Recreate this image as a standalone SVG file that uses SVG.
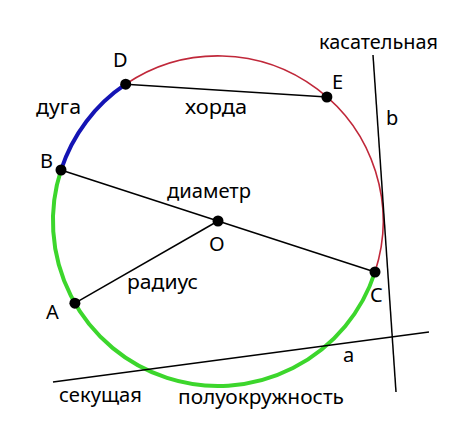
<svg xmlns="http://www.w3.org/2000/svg" width="474" height="439" viewBox="0 0 474 439">
<style>
.ln{stroke:#000;stroke-width:1.5;fill:none}
.pt{fill:#000}
.lbl{font-family:"Noto Sans","DejaVu Sans",sans-serif;font-size:20px;fill:#000}
.wd{font-family:"Noto Sans","DejaVu Sans",sans-serif;font-size:20px;fill:#000}
</style>
<rect width="474" height="439" fill="#fff"/>
<g id="circle">
<path d="M125.7,84.2 A165,165 0 0 1 375,272" fill="none" stroke="#c0283a" stroke-width="1.6"/>
<path d="M61,170 A165,165 0 0 1 125.7,84.2" fill="none" stroke="#1414b4" stroke-width="4"/>
<path d="M375,272 A165,165 0 0 1 61,170" fill="none" stroke="#3cd62c" stroke-width="4"/>
</g>
<g id="connectors">
<line class="ln" x1="125.7" y1="84.2" x2="326.9" y2="97"/>
<line class="ln" x1="61" y1="170" x2="375" y2="272"/>
<line class="ln" x1="218" y1="221" x2="74.9" y2="303.2"/>
<line class="ln" x1="373" y1="55" x2="396" y2="392"/>
<line class="ln" x1="53" y1="382" x2="429" y2="332"/>
</g>
<g id="D"><circle class="pt" cx="125.7" cy="84.2" r="5.5"/><text class="lbl" x="113" y="67">D</text></g>
<g id="E"><circle class="pt" cx="326.9" cy="97" r="5.5"/><text class="lbl" x="332" y="89">E</text></g>
<g id="B"><circle class="pt" cx="61" cy="170" r="5.5"/><text class="lbl" x="40" y="168">B</text></g>
<g id="C"><circle class="pt" cx="375" cy="272" r="5.5"/><text class="lbl" x="370" y="302">C</text></g>
<g id="A"><circle class="pt" cx="74.9" cy="303.2" r="5.5"/><text class="lbl" x="46" y="319">A</text></g>
<g id="O"><circle class="pt" cx="218" cy="221" r="5.5"/><text class="lbl" x="209" y="251">O</text></g>
<g id="labels">
<text class="wd" x="319" y="49" textLength="119" lengthAdjust="spacingAndGlyphs">касательная</text>
<text class="wd" x="178" y="404" textLength="166" lengthAdjust="spacingAndGlyphs">полуокружность</text>
<text class="wd" x="167" y="198" textLength="84" lengthAdjust="spacingAndGlyphs">диаметр</text>
<text class="wd" x="185" y="114" textLength="62" lengthAdjust="spacingAndGlyphs">хорда</text>
<text class="wd" x="36" y="114" textLength="45" lengthAdjust="spacingAndGlyphs">дуга</text>
<text class="wd" x="127" y="289" textLength="71" lengthAdjust="spacingAndGlyphs">радиус</text>
<text class="wd" x="59" y="402" textLength="83" lengthAdjust="spacingAndGlyphs">секущая</text>
<text class="wd" x="386" y="125">b</text>
<text class="wd" x="343" y="362">a</text>
</g>
</svg>
